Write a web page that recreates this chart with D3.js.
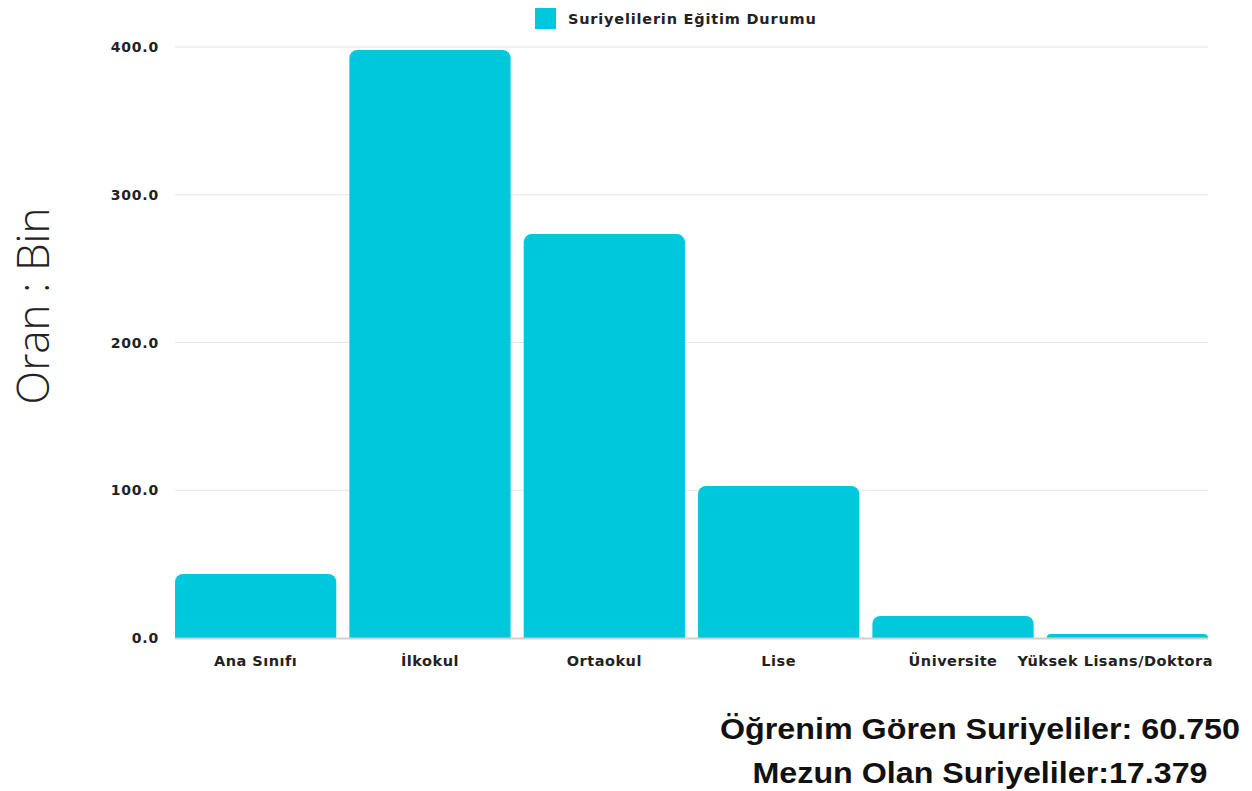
<!DOCTYPE html>
<html><head><meta charset="utf-8">
<script src="https://cdn.jsdelivr.net/npm/d3@7"></script>
<style>body{margin:0;background:#fff}</style>
</head><body>
<svg id="c" width="1252" height="791"></svg>
<script>
const categories = ["Ana Sınıfı","İlkokul","Ortaokul","Lise","Üniversite","Yüksek Lisans/Doktora"];
const values = [43.3, 398.0, 273.4, 102.9, 14.9, 2.7];
const yTicks = [0, 100, 200, 300, 400];
const seriesName = "Suriyelilerin Eğitim Durumu";
const axisTitle = "Oran : Bin";
const notes = ["Öğrenim Gören Suriyeliler: 60.750", "Mezun Olan Suriyeliler:17.379"];

const svg = d3.select("#c");
const m = {l:175, r:1208, t:47, b:638};
const x = d3.scaleBand().domain(categories).range([m.l, m.r]).paddingInner(0.075).paddingOuter(0.0);
const y = d3.scaleLinear().domain([0,400]).range([m.b, m.t]);
const color = "#00c8dc";
const lab = "'DejaVu Sans', 'Open Sans', sans-serif";

// grid
svg.append("g").selectAll("line").data(yTicks.filter(d=>d>0)).join("line")
  .attr("x1", m.l).attr("x2", m.r).attr("y1", d=>y(d)).attr("y2", d=>y(d))
  .attr("stroke", "#e3e3e3").attr("stroke-width", 1);
// y tick labels
svg.append("g").selectAll("text").data(yTicks).join("text")
  .attr("x", 159).attr("y", d=>y(d)+5).attr("text-anchor","end")
  .style("font-family", lab).style("font-weight", 700).style("font-size","14px")
  .style("letter-spacing","0.8px").attr("fill","#222")
  .text(d=>d3.format(".1f")(d));

// bars with rounded tops
const r = 8;
svg.append("g").selectAll("path").data(values).join("path")
  .attr("fill", color)
  .attr("d", (d,i)=>{
    const x0 = x(categories[i]), w = x.bandwidth(), y0 = y(d), y1 = y(0);
    const rr = Math.min(r, (y1-y0));
    const p = d3.path();
    p.moveTo(x0, y1);
    p.lineTo(x0, y0+rr);
    p.arcTo(x0, y0, x0+rr, y0, rr);
    p.lineTo(x0+w-rr, y0);
    p.arcTo(x0+w, y0, x0+w, y0+rr, rr);
    p.lineTo(x0+w, y1);
    p.closePath();
    return p.toString();
  });

// baseline
svg.append("line").attr("x1", m.l).attr("x2", m.r).attr("y1", y(0)+0.5).attr("y2", y(0)+0.5)
  .attr("stroke","#d0d0d0").attr("stroke-width",2);

// x labels (last one kept inside the canvas like the reference)
svg.append("g").selectAll("text").data(categories).join("text")
  .attr("x", (d,i)=> i === categories.length-1 ? 1213 : x(d)+x.bandwidth()/2)
  .attr("y", 666).attr("text-anchor", (d,i)=> i === categories.length-1 ? "end" : "middle")
  .style("font-family", lab).style("font-weight", 700).style("font-size","14.5px")
  .style("letter-spacing","0.5px").attr("fill","#222")
  .text(d=>d);

// legend
svg.append("rect").attr("x", 535).attr("y", 8).attr("width", 21).attr("height", 21).attr("fill", color);
svg.append("text").attr("x", 568).attr("y", 24)
  .style("font-family", lab).style("font-weight", 700).style("font-size","14.5px")
  .style("letter-spacing","0.8px").attr("fill","#222")
  .text(seriesName);

// y axis title
svg.append("text").attr("transform","translate(49,306) rotate(-90)").attr("text-anchor","middle")
  .style("font-family", "'Open Sans', sans-serif").style("font-weight", 300).style("font-size","44px").attr("fill","#222")
  .text(axisTitle);

// notes
const noteW = [520, 455];
svg.append("g").selectAll("text").data(notes).join("text")
  .attr("x", (d,i)=>980 - noteW[i]/2).attr("y", (d,i)=>739 + i*44)
  .attr("textLength", (d,i)=>noteW[i]).attr("lengthAdjust","spacingAndGlyphs")
  .style("font-family", "'Liberation Sans', Arial, sans-serif").style("font-weight", 700).style("font-size","29px").attr("fill","#111")
  .text(d=>d);
</script>
</body></html>
